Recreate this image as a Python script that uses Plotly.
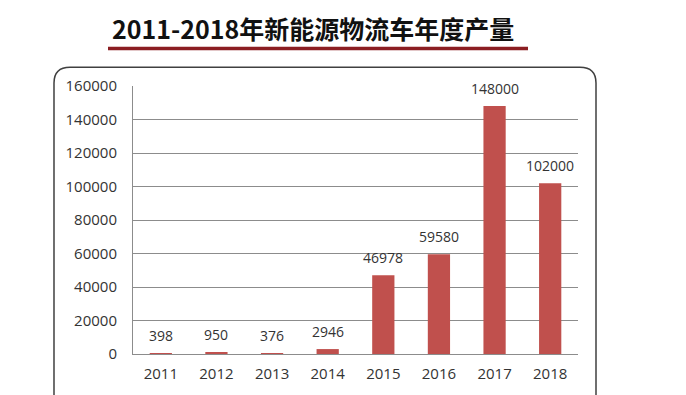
import plotly.graph_objects as go

years = ["2011", "2012", "2013", "2014", "2015", "2016", "2017", "2018"]
values = [398, 950, 376, 2946, 46978, 59580, 148000, 102000]
labels = ["398", "950", "376", "2946", "46978", "59580", "148000", "102000"]
title_text = "2011-2018年新能源物流车年度产量"

W, H = 686, 395
L, R, T, B = 133, 578, 86, 358  # plot area pixel bounds

fig = go.Figure()
fig.add_trace(go.Bar(
    x=years, y=values, marker=dict(color="#c0504d", line=dict(width=0)),
    width=0.4, hoverinfo="skip",
))

for i, (v, lb) in enumerate(zip(values, labels)):
    fig.add_annotation(x=i, y=v, text=lb, showarrow=False, yanchor="middle",
                       yshift=18, font=dict(family="Open Sans", size=14, color="#333333"))

def px(x):
    return (x - L) / (R - L)

def py(y):
    return (B - y) / (B - T)

# rounded frame (bottom cut off)
fx0, fx1, fy0, fyb = 54, 596, 67, 420
r = 16
path = (f"M {px(fx0):.5f},{py(fyb):.5f} L {px(fx0):.5f},{py(fy0 + r):.5f} "
        f"Q {px(fx0):.5f},{py(fy0):.5f} {px(fx0 + r):.5f},{py(fy0):.5f} "
        f"L {px(fx1 - r):.5f},{py(fy0):.5f} "
        f"Q {px(fx1):.5f},{py(fy0):.5f} {px(fx1):.5f},{py(fy0 + r):.5f} "
        f"L {px(fx1):.5f},{py(fyb):.5f}")
fig.add_shape(type="path", path=path, xref="paper", yref="paper",
              line=dict(color="#404040", width=1.5), layer="below")

# title underline
fig.add_shape(type="line", xref="paper", yref="paper",
              x0=px(108), x1=px(528), y0=py(48), y1=py(48),
              line=dict(color="#8b1e22", width=3.5))

fig.add_annotation(xref="paper", yref="paper", x=px(313), y=py(27),
                   text="<b>" + title_text + "</b>", showarrow=False,
                   xanchor="center", yanchor="middle",
                   font=dict(family="Noto Sans CJK SC", size=25, color="#111111"))

fig.update_layout(
    width=W, height=H,
    margin=dict(l=L, r=W - R, t=T, b=H - B),
    paper_bgcolor="white", plot_bgcolor="white",
    showlegend=False, bargap=0.6,
    xaxis=dict(type="category", range=[-0.5, len(years) - 0.5], showgrid=False,
               showline=True, linecolor="#8c8c8c", linewidth=1,
               ticks="", tickfont=dict(family="Open Sans", size=15, color="#333333"),
               ticklabelstandoff=6, fixedrange=True),
    yaxis=dict(range=[0, 160000], dtick=20000, showgrid=True, gridcolor="#8c8c8c",
               gridwidth=1, showline=True, linecolor="#8c8c8c", linewidth=1,
               zeroline=False, ticks="", tickformat="d",
               tickfont=dict(family="Open Sans", size=15, color="#333333"),
               ticklabelstandoff=12, fixedrange=True),
)

fig.write_html("out.html")
